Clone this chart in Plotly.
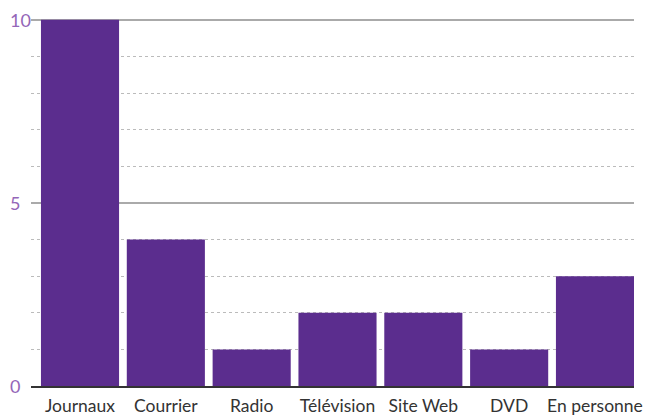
import plotly.graph_objects as go

categories = ["Journaux", "Courrier", "Radio", "Télévision", "Site Web", "DVD", "En personne"]
values = [10, 4, 1, 2, 2, 1, 3]
y_ticks = [0, 5, 10]

fig = go.Figure(go.Bar(x=categories, y=values, marker=dict(color="#5b2d8e", line=dict(width=0))))

for t in y_ticks:
    fig.add_annotation(x=0, xref="paper", y=t, yref="y", text=str(t), showarrow=False,
                       xanchor="left", xshift=-23, font=dict(size=18, color="#9466b8", family="Lato"))

fig.update_layout(
    width=654, height=415,
    margin=dict(l=31, r=20, t=18, b=29, autoexpand=False),
    plot_bgcolor="white", paper_bgcolor="white",
    bargap=0.09,
    showlegend=False,
    font=dict(family="Lato", size=17.5, color="#333333"),
)
fig.update_xaxes(range=[-0.571, 6.4545], showgrid=False, showline=True, linecolor="#333333",
                 linewidth=1.5, ticks="", automargin=False, ticklabelstandoff=3,
                 tickfont=dict(size=17.5, color="#333333"))
fig.update_yaxes(range=[0, 10.05], tickvals=[5, 10], showticklabels=False, showgrid=True,
                 gridcolor="#aaaaaa", gridwidth=1.5, zeroline=False, automargin=False,
                 minor=dict(tickvals=[1, 2, 3, 4, 6, 7, 8, 9], showgrid=True, gridcolor="#bbbbbb",
                            griddash="3px,3px", gridwidth=1))
fig.write_html("out.html", config={"displayModeBar": False},
               post_script="document.body.style.margin='0';document.body.style.overflow='hidden';")
